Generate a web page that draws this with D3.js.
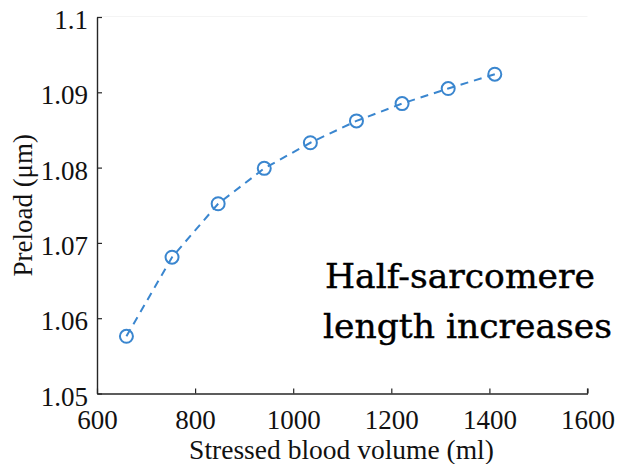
<!DOCTYPE html>
<html>
<head>
<meta charset="utf-8">
<script src="https://cdn.jsdelivr.net/npm/d3@7"></script>
<style>
  html, body { margin: 0; padding: 0; background: #fff; }
  svg { display: block; }
</style>
</head>
<body>
<svg id="chart" width="619" height="464"></svg>
<script>
// Stressed blood volume (ml) vs. preload (half-sarcomere length, µm)
const volume  = [660, 753, 847, 941, 1035, 1129, 1222, 1316, 1411];
const preload = [1.0576, 1.0681, 1.0752, 1.0799, 1.0833, 1.0862, 1.0885, 1.0905, 1.0924];
const xTicks = [600, 800, 1000, 1200, 1400, 1600];
const yTicks = [1.05, 1.06, 1.07, 1.08, 1.09, 1.1];
const annotation = ["Half-sarcomere", "length increases"];

const svg = d3.select("#chart");
const plotL = 97, plotR = 587.5, plotT = 17, plotB = 393.5;
const lineColor = "#3a86cf";
const axisColor = "#262626";
const serif = "'Liberation Serif', 'Times New Roman', serif";

const x = d3.scaleLinear().domain([600, 1600]).range([plotL, plotR]);
const y = d3.scaleLinear().domain([1.05, 1.1]).range([plotB, plotT]);

// faint top border
svg.append("line")
  .attr("x1", plotL).attr("x2", plotR).attr("y1", plotT - 0.5).attr("y2", plotT - 0.5)
  .attr("stroke", "#f4f4f4").attr("stroke-width", 1);

// x axis (ticks point inward)
const gx = svg.append("g").attr("transform", `translate(0,${plotB})`)
  .call(d3.axisBottom(x).tickValues(xTicks).tickSizeInner(-5).tickSizeOuter(0).tickPadding(0).tickFormat(d3.format("d")));
gx.select(".domain").attr("stroke", axisColor).attr("stroke-width", 1.4);
gx.selectAll(".tick line").attr("stroke", axisColor).attr("stroke-width", 1.2);
gx.selectAll(".tick text")
  .attr("y", 35).attr("dy", null)
  .attr("font-family", serif).attr("font-size", 27).attr("fill", "#111");

// y axis
const gy = svg.append("g").attr("transform", `translate(${plotL},0)`)
  .call(d3.axisLeft(y).tickValues(yTicks).tickSizeInner(-5).tickSizeOuter(0).tickPadding(0).tickFormat(d => String(+d.toFixed(2))));
gy.select(".domain").attr("stroke", axisColor).attr("stroke-width", 1.4);
gy.selectAll(".tick line").attr("stroke", axisColor).attr("stroke-width", 1.2);
gy.selectAll(".tick text")
  .attr("x", -9).attr("dy", null).attr("y", 11.5)
  .attr("font-family", serif).attr("font-size", 27).attr("fill", "#111");
// end tick at the right of the x axis
svg.append("line")
  .attr("x1", plotR).attr("x2", plotR).attr("y1", plotB).attr("y2", plotB - 5)
  .attr("stroke", axisColor).attr("stroke-width", 1.2);

// axis titles
svg.append("text")
  .attr("x", 341.5).attr("y", 459)
  .attr("text-anchor", "middle")
  .attr("font-family", serif).attr("font-size", 27.5).attr("fill", "#111")
  .text("Stressed blood volume (ml)");

svg.append("text")
  .attr("transform", `translate(32,${(plotT + plotB) / 2}) rotate(-90)`)
  .attr("text-anchor", "middle")
  .attr("font-family", serif).attr("font-size", 27).attr("fill", "#111")
  .text("Preload (μm)");

// data line
const pts = volume.map((v, i) => [v, preload[i]]);
svg.append("path")
  .datum(pts)
  .attr("d", d3.line().x(d => x(d[0])).y(d => y(d[1])))
  .attr("fill", "none")
  .attr("stroke", lineColor).attr("stroke-width", 2)
  .attr("stroke-dasharray", "8,6");

svg.selectAll("circle.pt")
  .data(pts).enter().append("circle")
  .attr("class", "pt")
  .attr("cx", d => x(d[0])).attr("cy", d => y(d[1]))
  .attr("r", 6.5)
  .attr("fill", "none")
  .attr("stroke", lineColor).attr("stroke-width", 2);

// annotation
const ann = svg.append("text")
  .attr("font-family", "'DejaVu Serif', 'Liberation Serif', serif")
  .attr("font-size", 33).attr("fill", "#000")
  .attr("stroke", "#000").attr("stroke-width", 0.4);
const widths = [270, 289];
annotation.forEach((t, i) => {
  ann.append("tspan")
    .attr("x", i === 0 ? 325 : 323).attr("y", 288 + i * 50)
    .attr("textLength", widths[i]).attr("lengthAdjust", "spacingAndGlyphs")
    .text(t);
});
</script>
</body>
</html>
